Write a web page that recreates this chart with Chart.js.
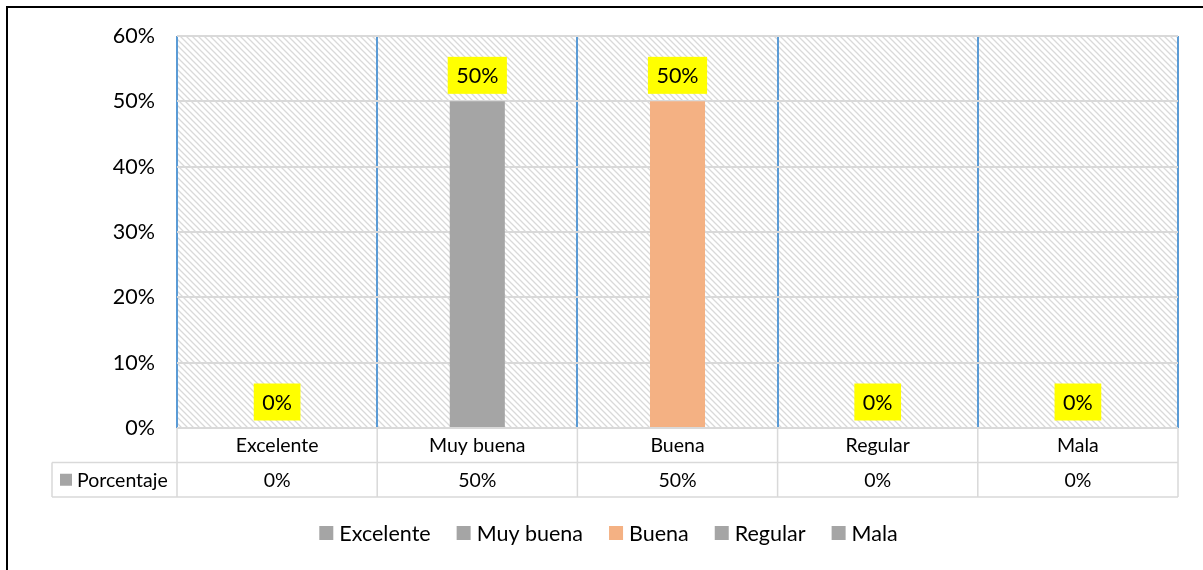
<!DOCTYPE html>
<html>
<head>
<meta charset="utf-8">
<script src="https://cdn.jsdelivr.net/npm/chart.js@4.4.1/dist/chart.umd.min.js"></script>
<style>
  html, body { margin: 0; padding: 0; background: #fff; overflow: hidden; width: 1203px; height: 570px; }
  #frame { position: absolute; left: 6px; top: 6px; width: 1300px; height: 700px; border-top: 2px solid #000; border-left: 2px solid #000; }
  #wrap { position: absolute; left: 0; top: 0; width: 1203px; height: 570px; }
</style>
</head>
<body>
<div id="frame"></div>
<div id="wrap"><canvas id="c" width="1203" height="570"></canvas></div>
<script>
const categories = ['Excelente', 'Muy buena', 'Buena', 'Regular', 'Mala'];
const values = [0, 50, 50, 0, 0];
const seriesName = 'Porcentaje';
const barColors = ['#a5a5a5', '#a5a5a5', '#f4b183', '#a5a5a5', '#a5a5a5'];
const yTickValues = [0, 10, 20, 30, 40, 50, 60];

const FONT = "Lato, 'Open Sans', sans-serif";
const TABLE_LINE = '#d9d9d9';
const CAT_SIZE = 19.5, TICK_SIZE = 21.5, LEGEND_SIZE = 21.5;

// hatch pattern
const pc = document.createElement('canvas');
pc.width = 6; pc.height = 6;
const pctx = pc.getContext('2d');
pctx.fillStyle = '#ffffff'; pctx.fillRect(0, 0, 6, 6);
pctx.strokeStyle = '#d9d9d9'; pctx.lineWidth = 1.3;
pctx.beginPath();
pctx.moveTo(-1, -1); pctx.lineTo(7, 7);
pctx.moveTo(-1, 5); pctx.lineTo(1, 7);
pctx.moveTo(5, -1); pctx.lineTo(7, 1);
pctx.stroke();

const hatchPlugin = {
  id: 'hatch',
  beforeDraw(chart) {
    const { ctx, chartArea: a } = chart;
    ctx.save();
    ctx.fillStyle = ctx.createPattern(pc, 'repeat');
    ctx.fillRect(a.left, a.top, a.right - a.left, a.bottom - a.top);
    ctx.restore();
  }
};

const labelPlugin = {
  id: 'dataLabels',
  afterDatasetsDraw(chart) {
    const { ctx } = chart;
    const meta = chart.getDatasetMeta(0);
    ctx.save();
    ctx.font = TICK_SIZE + 'px ' + FONT;
    ctx.textAlign = 'center';
    ctx.textBaseline = 'middle';
    meta.data.forEach((bar, i) => {
      const txt = values[i] + '%';
      const w = ctx.measureText(txt).width + 17;
      const h = 37;
      const bottom = bar.y - 7.5;
      ctx.fillStyle = '#ffff00';
      ctx.fillRect(bar.x - w / 2, bottom - h, w, h);
      ctx.fillStyle = '#000';
      ctx.fillText(txt, bar.x, bottom - h / 2 + 1);
    });
    ctx.restore();
  }
};

const tablePlugin = {
  id: 'dataTable',
  afterDraw(chart) {
    const { ctx, chartArea: a } = chart;
    const xs = chart.scales.x;
    const row1Top = a.bottom, row2Top = a.bottom + 34.5, row2Bot = a.bottom + 69;
    const tableLeft = 52;
    ctx.save();
    ctx.strokeStyle = TABLE_LINE;
    ctx.lineWidth = 1.5;
    ctx.beginPath();
    ctx.moveTo(a.left, row1Top); ctx.lineTo(a.right, row1Top);
    ctx.moveTo(tableLeft, row2Top); ctx.lineTo(a.right, row2Top);
    ctx.moveTo(tableLeft, row2Bot); ctx.lineTo(a.right, row2Bot);
    ctx.moveTo(tableLeft, row2Top); ctx.lineTo(tableLeft, row2Bot);
    const n = categories.length;
    const step = (a.right - a.left) / n;
    for (let i = 0; i <= n; i++) {
      const x = a.left + i * step;
      ctx.moveTo(x, row1Top); ctx.lineTo(x, row2Bot);
    }
    ctx.stroke();
    // series row
    const rowMid = (row2Top + row2Bot) / 2;
    ctx.fillStyle = barColors[0];
    ctx.fillRect(60, rowMid - 6, 12, 12);
    ctx.fillStyle = '#000';
    ctx.font = CAT_SIZE + 'px ' + FONT;
    ctx.textBaseline = 'middle';
    ctx.textAlign = 'left';
    ctx.fillText(seriesName, 77, rowMid + 1);
    ctx.textAlign = 'center';
    values.forEach((v, i) => {
      ctx.fillText(v + '%', xs.getPixelForValue(i), rowMid + 1);
    });
    ctx.restore();
  }
};

const legendPlugin = {
  id: 'customLegend',
  afterDraw(chart) {
    const { ctx } = chart;
    ctx.save();
    ctx.font = LEGEND_SIZE + 'px ' + FONT;
    const box = 14, gapText = 6, gapItem = 26;
    const widths = categories.map(c => ctx.measureText(c).width);
    const total = widths.reduce((s, w) => s + box + gapText + w, 0) + gapItem * (categories.length - 1);
    let x = 608.5 - total / 2;
    const y = 533;
    ctx.textBaseline = 'middle';
    ctx.textAlign = 'left';
    categories.forEach((c, i) => {
      ctx.fillStyle = barColors[i];
      ctx.fillRect(x, y - box / 2, box, box);
      ctx.fillStyle = '#000';
      ctx.fillText(c, x + box + gapText, y + 1);
      x += box + gapText + widths[i] + gapItem;
    });
    ctx.restore();
  }
};

new Chart(document.getElementById('c'), {
  type: 'bar',
  data: {
    labels: categories,
    datasets: [{
      label: seriesName,
      data: values,
      backgroundColor: barColors,
      borderWidth: 0,
      categoryPercentage: 1,
      barPercentage: 0.275
    }]
  },
  options: {
    responsive: false,
    animation: false,
    devicePixelRatio: 1,
    layout: { padding: { left: 0, top: 36, right: 25, bottom: 0 } },
    plugins: {
      legend: { display: false },
      tooltip: { enabled: false }
    },
    scales: {
      x: {
        offset: true,
        grid: { display: true, offset: true, color: '#5b9bd5', lineWidth: 2, drawTicks: false },
        border: { display: false },
        ticks: { font: { family: FONT, size: CAT_SIZE }, color: '#000', padding: 6 },
        afterFit(scale) { scale.height = 142; }
      },
      y: {
        min: 0, max: 60,
        afterBuildTicks(scale) { scale.ticks = yTickValues.map(v => ({ value: v })); },
        grid: { color: '#d9d9d9', lineWidth: 2, drawTicks: false },
        border: { display: false },
        ticks: { font: { family: FONT, size: TICK_SIZE }, color: '#000', padding: 22, callback: v => v + '%' },
        afterFit(scale) { scale.width = 177; }
      }
    }
  },
  plugins: [hatchPlugin, labelPlugin, tablePlugin, legendPlugin]
});
</script>
</body>
</html>
